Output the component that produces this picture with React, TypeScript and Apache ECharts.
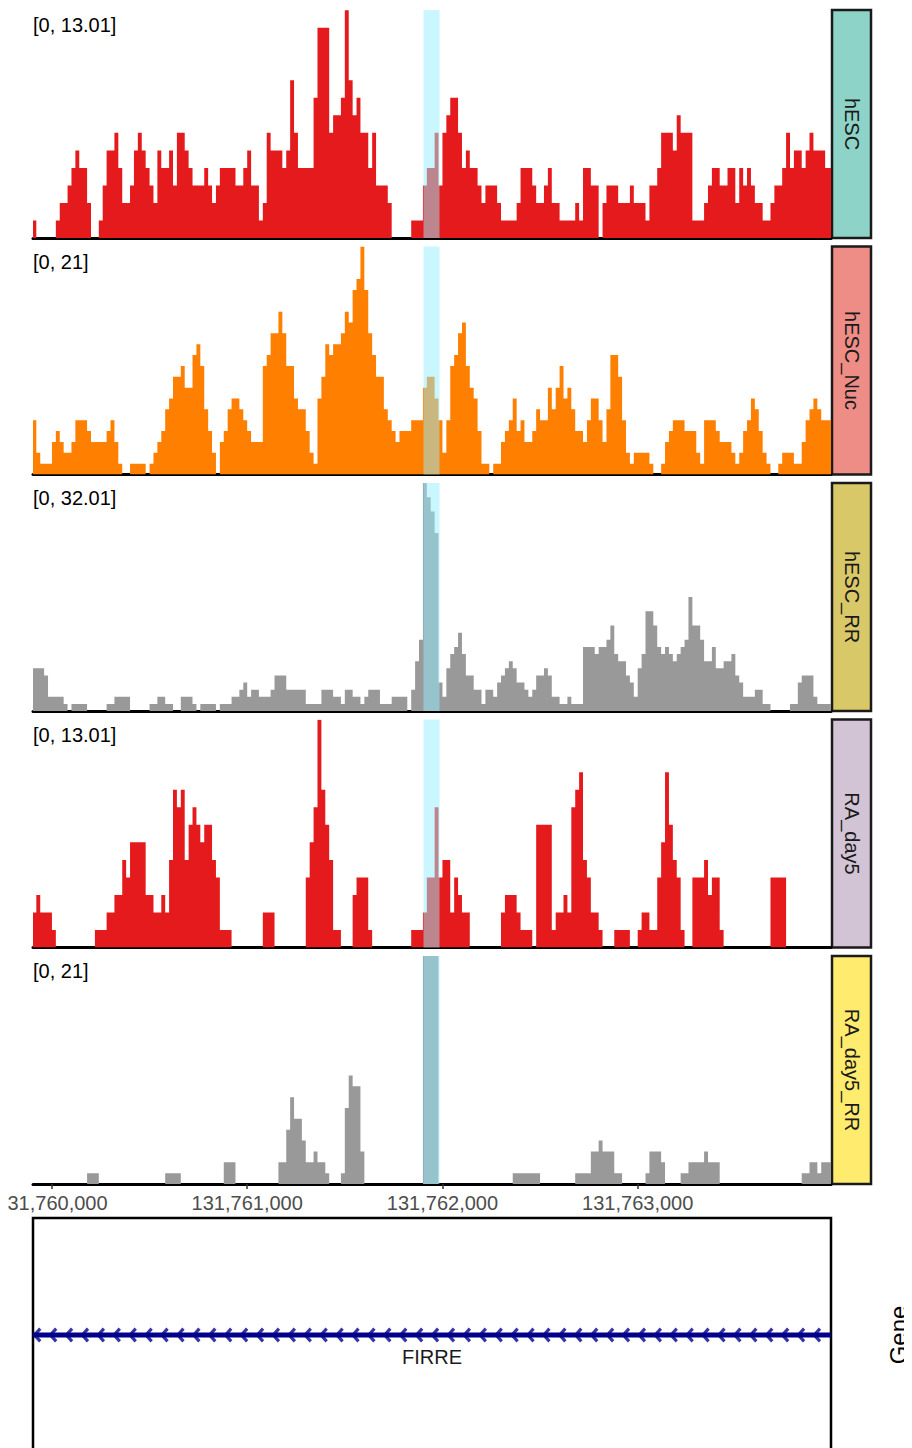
import React, { useEffect, useRef } from "react";
import * as echarts from "echarts";

// Genomic window and binning of the coverage tracks (20 bp bins)
const VIEW_START = 131759903;
const VIEW_END = 131763990;
const BIN_START = 131759900;
const BIN_SIZE = 20;
const HIGHLIGHT = [131761903, 131761985];

const TRACK_NAMES = ["hESC", "hESC_Nuc", "hESC_RR", "RA_day5", "RA_day5_RR"];
const TRACK_MAX = [13.01, 21, 32.01, 13.01, 21];
const TRACK_RANGE_LABELS = ["[0, 13.01]", "[0, 21]", "[0, 32.01]", "[0, 13.01]", "[0, 21]"];
const TRACK_COLORS = ["#e41a1c", "#ff7f00", "#999999", "#e41a1c", "#999999"];
const STRIP_COLORS = ["#8dd3c7", "#ee8c86", "#d9c867", "#d2c3d5", "#ffeb6e"];

const X_TICKS = [131760000, 131761000, 131762000, 131763000];

const GENE_NAME = "FIRRE";
const GENE_START = VIEW_START;
const GENE_END = VIEW_END;

// Coverage per 20 bp bin
const hESC = [
  1, 0, 0, 0, 0, 0, 1, 2, 2, 3, 4, 5, 4, 4, 2, 0, 0, 1, 3, 5,
  5, 6, 4, 2, 2, 3, 5, 6, 5, 4, 3, 2, 5, 4, 4, 5, 3, 6, 6, 5,
  4, 3, 3, 3, 4, 3, 2, 3, 4, 4, 4, 4, 3, 3, 4, 5, 3, 3, 1, 2,
  6, 5, 5, 5, 4, 5, 9, 6, 4, 4, 4, 4, 8, 12, 12, 12, 6, 7, 7, 8,
  13, 9, 7, 8, 6, 6, 4, 6, 3, 3, 3, 2, 0, 0, 0, 0, 0, 1, 1, 1,
  3, 4, 4, 6, 3, 6, 7, 8, 8, 6, 4, 5, 4, 4, 3, 2, 3, 3, 3, 2,
  1, 1, 1, 1, 2, 4, 4, 4, 3, 2, 2, 3, 4, 2, 2, 1, 1, 1, 1, 2,
  1, 4, 4, 3, 3, 0, 2, 3, 3, 3, 2, 2, 2, 3, 2, 2, 2, 1, 3, 3,
  4, 6, 6, 6, 5, 7, 6, 6, 6, 1, 1, 1, 2, 3, 4, 4, 3, 3, 4, 4,
  2, 4, 3, 4, 3, 2, 2, 1, 1, 2, 3, 3, 4, 6, 4, 5, 5, 4, 5, 6,
  5, 5, 5, 4, 4,
];

const hESC_Nuc = [
  5, 2, 1, 1, 1, 3, 4, 3, 2, 2, 3, 5, 5, 5, 4, 3, 3, 3, 3, 4,
  5, 3, 1, 0, 0, 1, 1, 1, 1, 0, 1, 2, 3, 4, 6, 7, 9, 9, 10, 8,
  8, 11, 12, 10, 6, 4, 2, 0, 3, 4, 6, 7, 7, 6, 5, 4, 3, 3, 3, 10,
  11, 13, 13, 15, 13, 10, 10, 7, 6, 6, 4, 2, 1, 7, 9, 12, 11, 12, 12, 13,
  15, 14, 17, 18, 21, 17, 13, 11, 9, 9, 6, 5, 4, 3, 4, 4, 4, 5, 5, 5,
  8, 9, 9, 7, 5, 2, 5, 10, 11, 13, 14, 10, 8, 7, 4, 1, 1, 0, 1, 1,
  3, 4, 5, 7, 4, 5, 3, 3, 4, 6, 5, 5, 8, 6, 8, 10, 7, 8, 6, 4,
  4, 3, 5, 7, 7, 5, 3, 6, 11, 11, 9, 5, 2, 1, 2, 2, 2, 2, 1, 0,
  0, 1, 3, 4, 5, 5, 5, 4, 4, 4, 2, 1, 5, 5, 5, 4, 3, 3, 3, 2,
  1, 2, 4, 5, 7, 6, 4, 2, 1, 0, 0, 1, 2, 2, 2, 1, 1, 3, 5, 6,
  7, 6, 5, 5, 5,
];

const hESC_RR = [
  6, 6, 6, 5, 2, 2, 2, 2, 1, 0, 1, 1, 1, 1, 0, 0, 0, 0, 0, 1,
  1, 2, 2, 2, 2, 0, 0, 0, 0, 0, 1, 1, 2, 2, 1, 1, 0, 0, 2, 2,
  2, 1, 0, 1, 1, 1, 1, 0, 1, 1, 1, 2, 2, 3, 4, 2, 3, 3, 2, 2,
  2, 3, 5, 5, 5, 3, 3, 3, 3, 3, 1, 1, 1, 1, 3, 3, 3, 2, 2, 1,
  3, 3, 2, 2, 1, 2, 3, 3, 3, 1, 1, 1, 2, 2, 2, 2, 0, 3, 7, 10,
  32, 30, 28, 25, 4, 2, 6, 8, 9, 11, 8, 5, 5, 3, 3, 1, 3, 3, 2, 4,
  5, 6, 7, 6, 4, 4, 3, 2, 3, 5, 5, 6, 5, 2, 2, 1, 1, 2, 1, 1,
  1, 9, 9, 9, 8, 9, 9, 10, 12, 8, 7, 7, 5, 4, 2, 6, 8, 14, 14, 12,
  9, 8, 9, 8, 7, 8, 9, 10, 16, 12, 12, 10, 7, 7, 9, 6, 6, 7, 7, 8,
  5, 4, 2, 2, 2, 3, 3, 1, 1, 0, 0, 0, 0, 0, 1, 1, 4, 5, 5, 5,
  2, 1, 1, 1, 1,
];

const RA_day5 = [
  2, 3, 2, 2, 2, 1, 0, 0, 0, 0, 0, 0, 0, 0, 0, 0, 1, 1, 1, 2,
  2, 3, 3, 5, 4, 6, 6, 6, 6, 3, 3, 2, 2, 3, 2, 5, 9, 8, 9, 5,
  7, 8, 7, 6, 7, 7, 5, 4, 1, 1, 1, 0, 0, 0, 0, 0, 0, 0, 0, 2,
  2, 2, 0, 0, 0, 0, 0, 0, 0, 0, 4, 6, 8, 13, 9, 7, 5, 1, 1, 0,
  0, 0, 3, 4, 4, 4, 1, 0, 0, 0, 0, 0, 0, 0, 0, 0, 0, 1, 1, 1,
  2, 4, 4, 8, 4, 5, 5, 2, 4, 3, 2, 2, 0, 0, 0, 0, 0, 0, 0, 0,
  2, 3, 3, 3, 2, 1, 1, 1, 0, 7, 7, 7, 7, 1, 2, 2, 3, 2, 8, 9,
  10, 5, 4, 2, 2, 1, 0, 0, 0, 1, 1, 1, 1, 0, 0, 1, 2, 2, 1, 1,
  4, 6, 10, 7, 5, 4, 1, 0, 0, 4, 4, 4, 5, 3, 4, 4, 1, 0, 0, 0,
  0, 0, 0, 0, 0, 0, 0, 0, 0, 4, 4, 4, 4, 0, 0, 0, 0, 0, 0, 0,
  0, 0, 0, 0, 0,
];

const RA_day5_RR = [
  0, 0, 0, 0, 0, 0, 0, 0, 0, 0, 0, 0, 0, 0, 1, 1, 1, 0, 0, 0,
  0, 0, 0, 0, 0, 0, 0, 0, 0, 0, 0, 0, 0, 0, 1, 1, 1, 1, 0, 0,
  0, 0, 0, 0, 0, 0, 0, 0, 0, 2, 2, 2, 0, 0, 0, 0, 0, 0, 0, 0,
  0, 0, 0, 2, 2, 5, 8, 6, 6, 4, 2, 2, 3, 2, 2, 1, 0, 0, 0, 1,
  7, 10, 9, 9, 3, 0, 0, 0, 0, 0, 0, 0, 0, 0, 0, 0, 0, 0, 0, 0,
  21, 21, 21, 21, 0, 0, 0, 0, 0, 0, 0, 0, 0, 0, 0, 0, 0, 0, 0, 0,
  0, 0, 0, 1, 1, 1, 1, 1, 1, 1, 0, 0, 0, 0, 0, 0, 0, 0, 0, 1,
  1, 1, 1, 3, 3, 4, 3, 3, 3, 1, 1, 0, 0, 0, 0, 0, 0, 1, 3, 3,
  3, 2, 0, 0, 0, 0, 1, 1, 2, 2, 2, 2, 3, 2, 2, 2, 0, 0, 0, 0,
  0, 0, 0, 0, 0, 0, 0, 0, 0, 0, 0, 0, 0, 0, 0, 0, 0, 1, 1, 2,
  2, 1, 2, 2, 2,
];

const TRACKS = [hESC, hESC_Nuc, hESC_RR, RA_day5, RA_day5_RR];

// Layout (pixels inside the chart container)
const WIDTH = 904;
const HEIGHT = 1440;
const PLOT_LEFT = 25;
const PLOT_W = 798;
const TRACK_TOP = 2;
const TRACK_STEP = 236.5;
const TRACK_H = 228;
const STRIP_W = 39;
const GENE_TOP = 1210;
const GENE_H = 234;
const CHEVRON_STEP = 81.5;
const HIGHLIGHT_FILL = "rgba(150, 240, 255, 0.5)";

const FONT = "'Liberation Sans', Arial, sans-serif";

function toSteps(values: number[]) {
  const pts = values.map((v, i) => [BIN_START + i * BIN_SIZE, v]);
  pts.push([BIN_START + values.length * BIN_SIZE, values[values.length - 1]]);
  return pts;
}

function buildOption() {
  const grids: any[] = [];
  const xAxes: any[] = [];
  const yAxes: any[] = [];
  const series: any[] = [];
  const graphics: any[] = [];

  TRACKS.forEach((values, k) => {
    const top = TRACK_TOP + k * TRACK_STEP;
    const isLast = k === TRACKS.length - 1;
    const yMax = TRACK_MAX[k];
    grids.push({ left: PLOT_LEFT, width: PLOT_W, top, height: TRACK_H, outerBoundsMode: "none" });
    xAxes.push({
      type: "value",
      gridIndex: k,
      min: VIEW_START,
      max: VIEW_END,
      splitLine: { show: false },
      axisLine: { show: true, onZero: false, lineStyle: { color: "#000", width: 3 } },
      axisTick: isLast
        ? { show: true, customValues: X_TICKS, length: 5, lineStyle: { color: "#333", width: 1.5 } }
        : { show: false },
      axisLabel: isLast
        ? {
            show: true,
            customValues: X_TICKS,
            formatter: (v: number) => v.toLocaleString("en-US"),
            color: "#4d4d4d",
            fontSize: 20,
            fontFamily: FONT,
            margin: 9,
          }
        : { show: false },
    });
    yAxes.push({ type: "value", gridIndex: k, min: 0, max: yMax, show: false });

    series.push({
      type: "line",
      name: TRACK_NAMES[k],
      xAxisIndex: k,
      yAxisIndex: k,
      step: "end",
      data: toSteps(values),
      symbol: "none",
      silent: true,
      lineStyle: { width: 0 },
      areaStyle: { color: TRACK_COLORS[k], opacity: 1 },
      z: 2,
    });
    // highlighted interval drawn over the coverage
    series.push({
      type: "custom",
      xAxisIndex: k,
      yAxisIndex: k,
      silent: true,
      z: 10,
      data: [[HIGHLIGHT[0], HIGHLIGHT[1]]],
      encode: { x: [0, 1] },
      renderItem: (_params: any, api: any) => {
        const p0 = api.coord([api.value(0), yMax]);
        const p1 = api.coord([api.value(1), 0]);
        return {
          type: "rect",
          shape: { x: p0[0], y: p0[1], width: p1[0] - p0[0], height: p1[1] - p0[1] },
          style: { fill: HIGHLIGHT_FILL },
        };
      },
    });

    graphics.push({
      type: "text",
      x: PLOT_LEFT,
      y: top + 15,
      style: {
        text: TRACK_RANGE_LABELS[k],
        fontSize: 20,
        fontFamily: FONT,
        fill: "#000",
        align: "left",
        verticalAlign: "middle",
      },
    });
    graphics.push({
      type: "rect",
      shape: { x: PLOT_LEFT + PLOT_W + 1, y: top, width: STRIP_W, height: TRACK_H },
      style: { fill: STRIP_COLORS[k], stroke: "#1a1a1a", lineWidth: 2.5 },
    });
    graphics.push({
      type: "text",
      x: PLOT_LEFT + PLOT_W + 1 + STRIP_W / 2,
      y: top + TRACK_H / 2,
      rotation: -Math.PI / 2,
      style: {
        text: TRACK_NAMES[k],
        fontSize: 20,
        fontFamily: FONT,
        fill: "#1a1a1a",
        align: "center",
        verticalAlign: "middle",
      },
    });
  });

  // gene annotation panel
  const g = TRACKS.length;
  grids.push({ left: PLOT_LEFT, width: PLOT_W, top: GENE_TOP, height: GENE_H, outerBoundsMode: "none" });
  xAxes.push({ type: "value", gridIndex: g, min: VIEW_START, max: VIEW_END, show: false });
  yAxes.push({ type: "value", gridIndex: g, min: 0, max: 1, show: false });
  series.push({
    type: "line",
    xAxisIndex: g,
    yAxisIndex: g,
    data: [
      [GENE_START, 0.5],
      [GENE_END, 0.5],
    ],
    symbol: "none",
    silent: true,
    lineStyle: { color: "#00008b", width: 5 },
  });
  // strand arrows along the gene body (minus strand)
  const chevrons: number[][] = [];
  for (let p = GENE_START + 20; p < GENE_END - 10; p += CHEVRON_STEP) chevrons.push([p, 0.5]);
  series.push({
    type: "scatter",
    xAxisIndex: g,
    yAxisIndex: g,
    data: chevrons,
    symbol: "path://M10,0 L13.5,3 L6.5,10 L13.5,17 L10,20 L0,10 Z",
    symbolSize: [9, 15],
    symbolKeepAspect: false,
    silent: true,
    itemStyle: { color: "#00008b" },
  });

  graphics.push({
    type: "rect",
    shape: { x: PLOT_LEFT, y: GENE_TOP, width: PLOT_W, height: 300 },
    style: { fill: "none", stroke: "#000", lineWidth: 2.5 },
  });
  graphics.push({
    type: "text",
    x: PLOT_LEFT + PLOT_W / 2,
    y: GENE_TOP + GENE_H / 2 + 22,
    style: {
      text: GENE_NAME,
      fontSize: 20,
      fontFamily: FONT,
      fill: "#1a1a1a",
      align: "center",
      verticalAlign: "middle",
    },
  });
  graphics.push({
    type: "text",
    x: 890,
    y: GENE_TOP + GENE_H / 2,
    rotation: Math.PI / 2,
    style: {
      text: "Gene",
      fontSize: 24,
      fontFamily: FONT,
      fill: "#000",
      align: "center",
      verticalAlign: "middle",
    },
  });

  return {
    animation: false,
    backgroundColor: "#fff",
    textStyle: { fontFamily: FONT },
    grid: grids,
    xAxis: xAxes,
    yAxis: yAxes,
    series,
    graphic: { elements: graphics },
  };
}

export default function App() {
  const ref = useRef<HTMLDivElement>(null);
  useEffect(() => {
    if (!ref.current) return;
    const chart = echarts.init(ref.current, null, { renderer: "svg" });
    chart.setOption(buildOption());
    return () => chart.dispose();
  }, []);
  return <div ref={ref} style={{ width: WIDTH, height: HEIGHT }} />;
}
